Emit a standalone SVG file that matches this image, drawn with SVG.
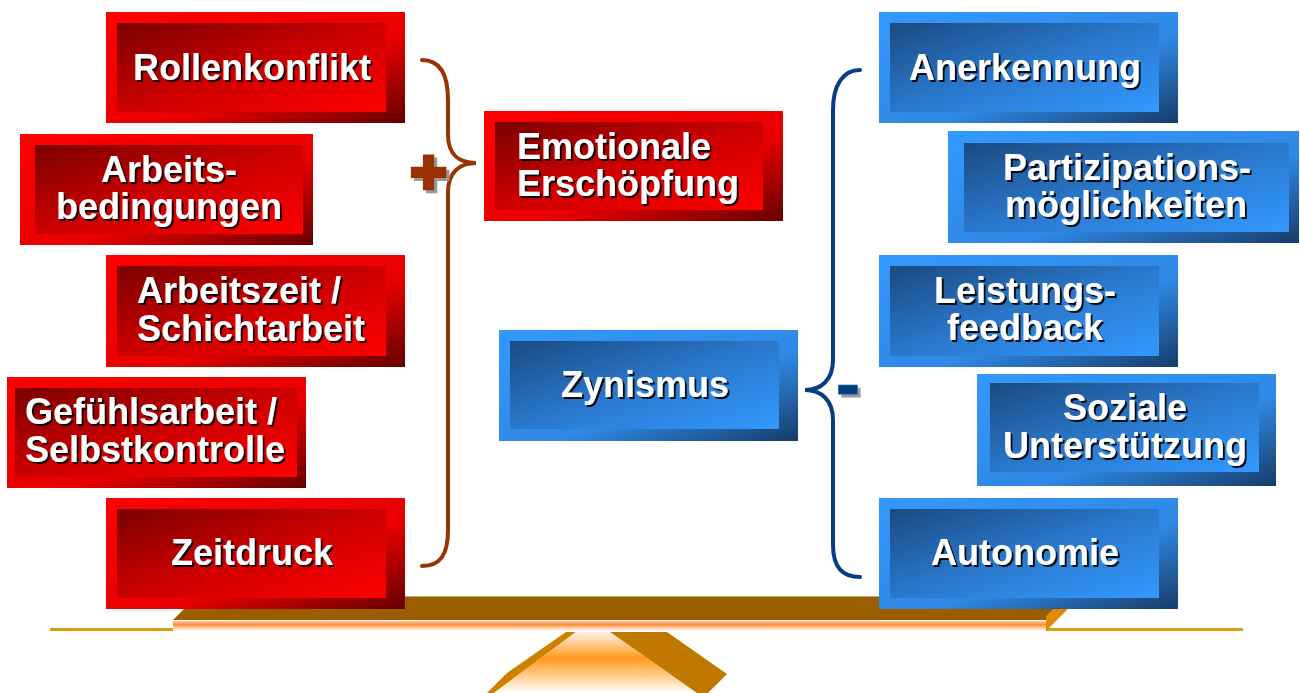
<svg xmlns="http://www.w3.org/2000/svg" width="1300" height="693" viewBox="0 0 1300 693">
<defs>
<linearGradient id="rOut" x1="0" y1="0" x2="1" y2="1"><stop offset="0" stop-color="#FF0000"/><stop offset="0.6" stop-color="#E80000"/><stop offset="1" stop-color="#660000"/></linearGradient>
<linearGradient id="rIn" x1="0" y1="0" x2="1" y2="1"><stop offset="0" stop-color="#7A0000"/><stop offset="0.5" stop-color="#CC0000"/><stop offset="1" stop-color="#FF0000"/></linearGradient>
<linearGradient id="bOut" x1="0" y1="0" x2="1" y2="1"><stop offset="0" stop-color="#3399FF"/><stop offset="0.6" stop-color="#2F88E4"/><stop offset="1" stop-color="#173C68"/></linearGradient>
<linearGradient id="bIn" x1="0" y1="0" x2="1" y2="1"><stop offset="0" stop-color="#1B4A80"/><stop offset="0.5" stop-color="#2A78CC"/><stop offset="1" stop-color="#3399FF"/></linearGradient>
<linearGradient id="stripe" x1="0" y1="0" x2="0" y2="1"><stop offset="0" stop-color="#FFC8A0"/><stop offset="0.35" stop-color="#FF8F3A"/><stop offset="1" stop-color="#FFFFFF"/></linearGradient>
<linearGradient id="front" x1="0" y1="0" x2="0" y2="1"><stop offset="0" stop-color="#FFF2EC"/><stop offset="0.43" stop-color="#FF9A1A"/><stop offset="1" stop-color="#FFFFFF"/></linearGradient>
<filter id="ts" x="-10%" y="-20%" width="130%" height="150%"><feDropShadow dx="2" dy="2" stdDeviation="0.6" flood-color="#000" flood-opacity="0.9"/></filter>
<filter id="gs" x="-30%" y="-30%" width="170%" height="170%"><feDropShadow dx="3" dy="3" stdDeviation="0.5" flood-color="#999" flood-opacity="1"/></filter>
</defs>
<style>
.lbl{font-family:"Liberation Sans",Arial,sans-serif;font-weight:bold;font-size:36px;fill:#FFFFFF;filter:url(#ts)}
.c{text-anchor:middle}
.ro{fill:url(#rOut)}
.ri{fill:url(#rIn)}
.bo{fill:url(#bOut)}
.bi{fill:url(#bIn)}
.brace{fill:none;stroke-width:4;stroke-linecap:round}
.sign{font-family:"Liberation Sans",Arial,sans-serif;font-weight:bold;filter:url(#gs)}
</style>
<rect width="1300" height="693" fill="#FFFFFF"/>
<g id="seesaw">
<line x1="50" y1="629.5" x2="173" y2="629.5" stroke="#D4A010" stroke-width="3"/>
<line x1="1046" y1="629.5" x2="1243" y2="629.5" stroke="#D4A010" stroke-width="3"/>
<polygon points="197,596 1067,596 1046,617 1046,620 173,620" fill="#9A5E00"/>
<line x1="197" y1="596.5" x2="1067" y2="596.5" stroke="#C9A47A" stroke-width="1"/>
<polygon points="1067,596 1081,596 1046,631 1046,617" fill="#E08A00"/>
<rect x="173" y="621" width="873" height="10" fill="url(#stripe)"/>
<polygon points="566,632 576,632 494,693 487,693 507,673" fill="#D08000"/>
<polygon points="576,632 610,632 697,693 494,693" fill="url(#front)"/>
<polygon points="610,632 667,632 727,674 708,693 697,693" fill="#C07800"/>
</g>
<g id="connectors">
<path class="brace" stroke="#993300" d="M 422 60 C 440 60 448 75 448 100 L 448 135 C 448 155 460 163 476 163 C 460 163 448 172 448 192 L 448 530 C 448 555 440 566 422 566"/>
<path class="brace" stroke="#063D85" d="M 860 70 C 843 70 833 85 833 110 L 833 360 C 833 380 821 390 805 390 C 821 390 833 400 833 420 L 833 545 C 833 568 843 577 860 577"/>
</g>
<g id="plus"><text class="sign" x="428.5" y="193" font-size="62" text-anchor="middle" fill="#993300" stroke="#993300" stroke-width="4.5">+</text></g>
<g id="minus"><text class="sign" x="848" y="408" font-size="72" text-anchor="middle" fill="#063D85" stroke="#063D85" stroke-width="1">-</text></g>
<g id="rollenkonflikt"><rect class="ro" x="106" y="12" width="299" height="111"/><rect class="ri" x="117" y="23" width="269" height="89"/><text class="lbl c" x="252" y="80">Rollenkonflikt</text></g>
<g id="arbeitsbedingungen"><rect class="ro" x="20" y="134" width="293" height="111"/><rect class="ri" x="35" y="145" width="268" height="89"/><text class="lbl c" x="169" y="182">Arbeits-</text><text class="lbl c" x="169" y="219">bedingungen</text></g>
<g id="arbeitszeit"><rect class="ro" x="106" y="255" width="299" height="112"/><rect class="ri" x="117" y="266" width="269" height="90"/><text class="lbl" x="137" y="303">Arbeitszeit /</text><text class="lbl" x="137" y="341">Schichtarbeit</text></g>
<g id="gefuehlsarbeit"><rect class="ro" x="7" y="377" width="299" height="111"/><rect class="ri" x="15" y="388" width="282" height="89"/><text class="lbl" x="25" y="424">Gefühlsarbeit /</text><text class="lbl" x="25" y="462">Selbstkontrolle</text></g>
<g id="zeitdruck"><rect class="ro" x="106" y="498" width="299" height="111"/><rect class="ri" x="117" y="509" width="269" height="89"/><text class="lbl c" x="252" y="565">Zeitdruck</text></g>
<g id="erschoepfung"><rect class="ro" x="484" y="111" width="299" height="110"/><rect class="ri" x="495" y="122" width="268" height="88"/><text class="lbl" x="517" y="159">Emotionale</text><text class="lbl" x="517" y="196">Erschöpfung</text></g>
<g id="zynismus"><rect class="bo" x="499" y="330" width="299" height="111"/><rect class="bi" x="510" y="341" width="269" height="88"/><text class="lbl c" x="645" y="397">Zynismus</text></g>
<g id="anerkennung"><rect class="bo" x="879" y="12" width="299" height="111"/><rect class="bi" x="890" y="23" width="269" height="89"/><text class="lbl c" x="1025" y="80">Anerkennung</text></g>
<g id="partizipation"><rect class="bo" x="948" y="131" width="351" height="112"/><rect class="bi" x="964" y="143" width="325" height="89"/><text class="lbl c" x="1127" y="180">Partizipations-</text><text class="lbl c" x="1126" y="217">möglichkeiten</text></g>
<g id="leistungsfeedback"><rect class="bo" x="879" y="255" width="299" height="112"/><rect class="bi" x="890" y="266" width="269" height="90"/><text class="lbl c" x="1025" y="303">Leistungs-</text><text class="lbl c" x="1025" y="340">feedback</text></g>
<g id="sozialeunterstuetzung"><rect class="bo" x="977" y="374" width="299" height="112"/><rect class="bi" x="990" y="383" width="269" height="89"/><text class="lbl c" x="1125" y="420">Soziale</text><text class="lbl c" x="1125" y="458">Unterstützung</text></g>
<g id="autonomie"><rect class="bo" x="879" y="498" width="299" height="111"/><rect class="bi" x="890" y="509" width="269" height="89"/><text class="lbl c" x="1025" y="565">Autonomie</text></g>
</svg>
